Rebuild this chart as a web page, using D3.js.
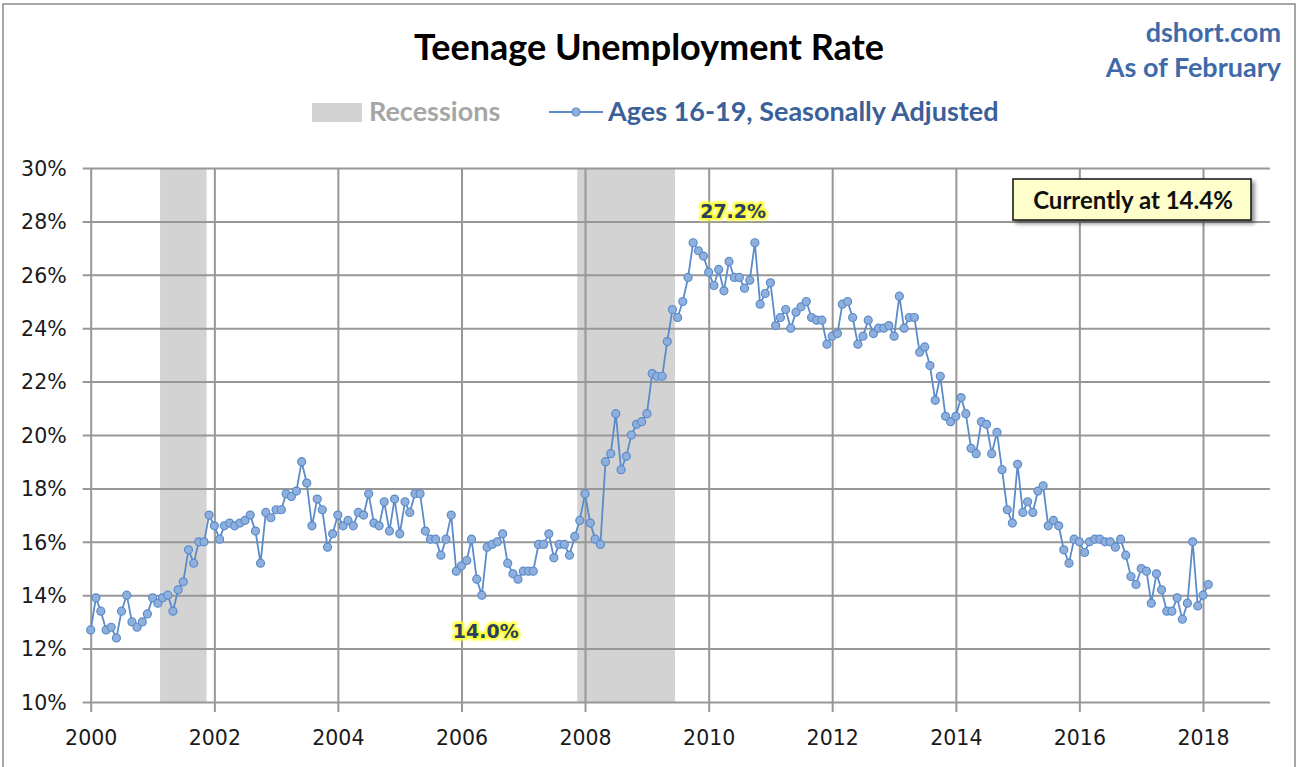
<!DOCTYPE html>
<html>
<head>
<meta charset="utf-8">
<script src="https://cdn.jsdelivr.net/npm/d3@7"></script>
<style>
  body { margin: 0; background: #fff; }
  svg { display: block; font-family: Lato, "Open Sans", sans-serif; }
  .axis-label { font-family: "DejaVu Sans", Verdana, sans-serif; font-size: 20.5px; fill: #1a1a1a; }
</style>
</head>
<body>
<svg id="chart"></svg>
<script>
// Teenage unemployment rate, ages 16-19, seasonally adjusted (monthly, from Jan 2000)
const startYear = 2000;
const rate = [
  12.7, 13.9, 13.4, 12.7, 12.8, 12.4, 13.4, 14.0, 13.0, 12.8, 13.0, 13.3, // 2000
  13.9, 13.7, 13.9, 14.0, 13.4, 14.2, 14.5, 15.7, 15.2, 16.0, 16.0, 17.0, // 2001
  16.6, 16.1, 16.6, 16.7, 16.6, 16.7, 16.8, 17.0, 16.4, 15.2, 17.1, 16.9, // 2002
  17.2, 17.2, 17.8, 17.7, 17.9, 19.0, 18.2, 16.6, 17.6, 17.2, 15.8, 16.3, // 2003
  17.0, 16.6, 16.8, 16.6, 17.1, 17.0, 17.8, 16.7, 16.6, 17.5, 16.4, 17.6, // 2004
  16.3, 17.5, 17.1, 17.8, 17.8, 16.4, 16.1, 16.1, 15.5, 16.1, 17.0, 14.9, // 2005
  15.1, 15.3, 16.1, 14.6, 14.0, 15.8, 15.9, 16.0, 16.3, 15.2, 14.8, 14.6, // 2006
  14.9, 14.9, 14.9, 15.9, 15.9, 16.3, 15.4, 15.9, 15.9, 15.5, 16.2, 16.8, // 2007
  17.8, 16.7, 16.1, 15.9, 19.0, 19.3, 20.8, 18.7, 19.2, 20.0, 20.4, 20.5, // 2008
  20.8, 22.3, 22.2, 22.2, 23.5, 24.7, 24.4, 25.0, 25.9, 27.2, 26.9, 26.7, // 2009
  26.1, 25.6, 26.2, 25.4, 26.5, 25.9, 25.9, 25.5, 25.8, 27.2, 24.9, 25.3, // 2010
  25.7, 24.1, 24.4, 24.7, 24.0, 24.6, 24.8, 25.0, 24.4, 24.3, 24.3, 23.4, // 2011
  23.7, 23.8, 24.9, 25.0, 24.4, 23.4, 23.7, 24.3, 23.8, 24.0, 24.0, 24.1, // 2012
  23.7, 25.2, 24.0, 24.4, 24.4, 23.1, 23.3, 22.6, 21.3, 22.2, 20.7, 20.5, // 2013
  20.7, 21.4, 20.8, 19.5, 19.3, 20.5, 20.4, 19.3, 20.1, 18.7, 17.2, 16.7, // 2014
  18.9, 17.1, 17.5, 17.1, 17.9, 18.1, 16.6, 16.8, 16.6, 15.7, 15.2, 16.1, // 2015
  16.0, 15.6, 16.0, 16.1, 16.1, 16.0, 16.0, 15.8, 16.1, 15.5, 14.7, 14.4, // 2016
  15.0, 14.9, 13.7, 14.8, 14.2, 13.4, 13.4, 13.9, 13.1, 13.7, 16.0, 13.6, // 2017
  14.0, 14.4                                                              // 2018
];

// NBER recessions: [start year, start month index], [end year, end month index]
const recessions = [
  { start: [2001, 2], end: [2001, 10] },
  { start: [2007, 11], end: [2009, 5] }
];

const yTicks = [10, 12, 14, 16, 18, 20, 22, 24, 26, 28, 30];
const xTickYears = [2000, 2002, 2004, 2006, 2008, 2010, 2012, 2014, 2016, 2018];

// highlighted values (high and low)
const extremes = [
  { label: "27.2%", year: 2009, month: 9, kind: "high" },
  { label: "14.0%", year: 2006, month: 4, kind: "low" }
];

const titleText = "Teenage Unemployment Rate";
const sourceLines = ["dshort.com", "As of February"];
const legendItems = ["Recessions", "Ages 16-19, Seasonally Adjusted"];
const currentNote = "Currently at 14.4%";

const data = rate.map((v, i) => ({
  date: new Date(startYear, i, 1),
  value: v
}));

const width = 1298, height = 767;
const plot = { left: 90.7, right: 1270, top: 168, bottom: 702 };

const svg = d3.select("#chart")
    .attr("width", width)
    .attr("height", height);

const defs = svg.append("defs");
const shadow = defs.append("filter").attr("id", "shadow")
    .attr("x", "-10%").attr("y", "-20%").attr("width", "130%").attr("height", "160%");
shadow.append("feGaussianBlur").attr("in", "SourceAlpha").attr("stdDeviation", 2);
shadow.append("feOffset").attr("dx", 3).attr("dy", 3).attr("result", "off");
shadow.append("feComponentTransfer").append("feFuncA").attr("type", "linear").attr("slope", 0.45);
const merge = shadow.append("feMerge");
merge.append("feMergeNode");
merge.append("feMergeNode").attr("in", "SourceGraphic");

const glow = defs.append("filter").attr("id", "glow")
    .attr("x", "-20%").attr("y", "-40%").attr("width", "140%").attr("height", "180%");
glow.append("feGaussianBlur").attr("stdDeviation", 1.2);

// chart border
svg.append("rect")
    .attr("x", 3).attr("y", 4)
    .attr("width", 1292).attr("height", 780)
    .attr("fill", "#fff")
    .attr("stroke", "#8a8a8a")
    .attr("stroke-width", 1.5);

// scales
const x = d3.scaleTime()
    .domain([new Date(2000, 0, 1), new Date(2019, 1, 1)])
    .range([plot.left, plot.right]);

const y = d3.scaleLinear()
    .domain([10, 30])
    .range([plot.bottom, plot.top]);

const chart = svg.append("g");

// recession bands (half a month either side of start / end month)
chart.selectAll(".recession")
    .data(recessions)
    .join("rect")
    .attr("class", "recession")
    .attr("x", d => x(new Date(d.start[0], d.start[1], -14)))
    .attr("width", d => x(new Date(d.end[0], d.end[1], 16)) - x(new Date(d.start[0], d.start[1], -14)))
    .attr("y", plot.top)
    .attr("height", plot.bottom - plot.top)
    .attr("fill", "#d3d3d3");

// gridlines + axes
const yAxis = d3.axisLeft(y)
    .tickValues(yTicks)
    .tickSize(-(plot.right - plot.left))
    .tickSizeOuter(0)
    .tickFormat(d => d + "%");

const yAxisG = chart.append("g")
    .attr("transform", `translate(${plot.left},0)`)
    .call(yAxis);
yAxisG.select(".domain").remove();
yAxisG.selectAll(".tick line")
    .attr("x1", -8)
    .attr("stroke", "#979797")
    .attr("stroke-width", 2);
yAxisG.selectAll(".tick text")
    .attr("class", "axis-label")
    .attr("x", -24)
    .attr("dy", "0.36em")
    .attr("text-anchor", "end");

const xAxis = d3.axisBottom(x)
    .tickValues(xTickYears.map(yr => new Date(yr, 0, 1)))
    .tickSize(-(plot.bottom - plot.top))
    .tickSizeOuter(0)
    .tickFormat(d3.timeFormat("%Y"));

const xAxisG = chart.append("g")
    .attr("transform", `translate(0,${plot.bottom})`)
    .call(xAxis);
xAxisG.select(".domain").remove();
xAxisG.selectAll(".tick line")
    .attr("y1", 10)
    .attr("stroke", "#979797")
    .attr("stroke-width", 2);
xAxisG.selectAll(".tick text")
    .attr("class", "axis-label")
    .attr("y", 36)
    .attr("dy", "0.36em")
    .attr("text-anchor", "middle");

// series
chart.append("path")
    .datum(data)
    .attr("fill", "none")
    .attr("stroke", "#5b8bca")
    .attr("stroke-width", 1.8)
    .attr("stroke-linejoin", "round")
    .attr("d", d3.line()
        .x(d => x(d.date))
        .y(d => y(d.value)));

chart.selectAll(".point")
    .data(data)
    .join("circle")
    .attr("class", "point")
    .attr("cx", d => x(d.date))
    .attr("cy", d => y(d.value))
    .attr("r", 4)
    .attr("fill", "#8fb0dc")
    .attr("stroke", "#5b8bca")
    .attr("stroke-width", 1.2);

// high / low labels
extremes.forEach(e => {
  const v = rate[(e.year - startYear) * 12 + e.month];
  const cx = x(new Date(e.year, e.month, 1)) + (e.kind === "high" ? 40 : 4);
  const cy = y(v) + (e.kind === "high" ? -32 : 36);
  const g = chart.append("g").attr("transform", `translate(${cx},${cy})`);
  g.append("text")
      .attr("text-anchor", "middle")
      .attr("dy", "0.36em")
      .attr("font-family", "'DejaVu Sans', Verdana, sans-serif")
      .attr("font-weight", "bold")
      .attr("font-size", 19)
      .attr("fill", "#ffff33")
      .attr("stroke", "#ffff33")
      .attr("stroke-width", 5)
      .attr("stroke-linejoin", "round")
      .attr("filter", "url(#glow)")
      .text(e.label);
  g.append("text")
      .attr("text-anchor", "middle")
      .attr("dy", "0.36em")
      .attr("font-family", "'DejaVu Sans', Verdana, sans-serif")
      .attr("font-weight", "bold")
      .attr("font-size", 19)
      .attr("fill", "#2b3f63")
      .text(e.label);
});

// "Currently at" callout
const note = svg.append("g").attr("transform", "translate(1013,179)");
note.append("rect")
    .attr("width", 238).attr("height", 41)
    .attr("fill", "#ffffcc")
    .attr("stroke", "#111")
    .attr("stroke-width", 1.5)
    .attr("filter", "url(#shadow)");
note.append("text")
    .attr("x", 120).attr("y", 21)
    .attr("dy", "0.36em")
    .attr("text-anchor", "middle")
    .attr("font-weight", "bold")
    .attr("font-size", 24)
    .attr("fill", "#111")
    .text(currentNote);

// title and source
svg.append("text")
    .attr("x", 649).attr("y", 60)
    .attr("text-anchor", "middle")
    .attr("font-weight", "bold")
    .attr("font-size", 36)
    .attr("fill", "#000")
    .text(titleText);

svg.selectAll(".source")
    .data(sourceLines)
    .join("text")
    .attr("class", "source")
    .attr("x", 1281)
    .attr("y", (d, i) => 42 + i * 35)
    .attr("text-anchor", "end")
    .attr("font-weight", "bold")
    .attr("font-size", 27)
    .attr("fill", "#3f6aa8")
    .text(d => d);

// legend
const legend = svg.append("g");
legend.append("rect")
    .attr("x", 312).attr("y", 103)
    .attr("width", 50).attr("height", 19)
    .attr("fill", "#d3d3d3");
legend.append("text")
    .attr("x", 369).attr("y", 121)
    .attr("font-weight", "bold")
    .attr("font-size", 27)
    .attr("fill", "#a6a6a6")
    .text(legendItems[0]);
legend.append("line")
    .attr("x1", 549).attr("x2", 603)
    .attr("y1", 112).attr("y2", 112)
    .attr("stroke", "#5b8bca")
    .attr("stroke-width", 1.8);
legend.append("circle")
    .attr("cx", 576).attr("cy", 112).attr("r", 4)
    .attr("fill", "#8fb0dc")
    .attr("stroke", "#5b8bca")
    .attr("stroke-width", 1.2);
legend.append("text")
    .attr("x", 608).attr("y", 121)
    .attr("font-weight", "bold")
    .attr("font-size", 27)
    .attr("fill", "#3b5f98")
    .text(legendItems[1]);
</script>
</body>
</html>
